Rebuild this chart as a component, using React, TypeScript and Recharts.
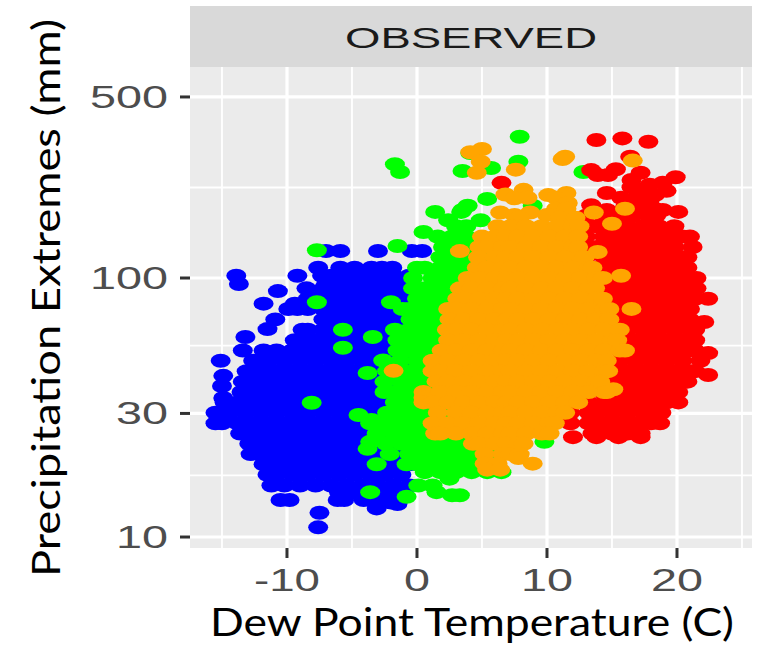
import { ScatterChart, Scatter, XAxis, YAxis, CartesianGrid, Label } from 'recharts'

type Row = [number, number[]]

// each row: [precipitation (mm), dew point temperatures (C)]
const blueRows: Row[] = [
  [127.1, [-7, -5.9, -3, -0.4, 0.4]],
  [109.6, [-7.6, -5.9, -4.8, -3.5, -2.7, -1.9]],
  [102, [-13.9, -9.2, -7.3, -6.6, -5.4, -4.2, -3, -1.8, -0.6]],
  [94.8, [-13.7, -7, -5.8, -4.6, -3.4, -2.2, -1]],
  [91.2, [-8.5, -7.2, -6, -4.8, -3.6, -2.4, -1.2]],
  [89, [-10.7]],
  [83.2, [-8.4, -7.8, -6.6, -5.4, -4.2, -3, -1.8, -0.6]],
  [79.6, [-11.8, -9.4]],
  [75.9, [-9.9, -9.2, -8.4, -7.2, -6, -4.8, -3.6, -2.4, -1.2]],
  [69.2, [-10.9, -7.2, -6.6, -5.4, -4.2, -3, -1.8, -0.6]],
  [63.5, [-11.5]],
  [63.1, [-8.8, -8.4, -7.2, -6, -4.8, -3.6, -2.4, -1.2]],
  [59.2, [-13.2]],
  [57.5, [-9.4, -9, -7.8, -6.6, -5.4, -4.2, -3, -1.8, -0.6]],
  [52.5, [-13.4, -11.8, -10.8, -9.6, -8.4, -7.2, -6, -4.8, -3.6, -2.4, -1.2]],
  [47.9, [-15.1, -12.6, -11.4, -10.2, -9, -7.8, -6.6, -5.4, -4.2, -3, -1.8, -0.6]],
  [43.7, [-13.1, -12, -10.8, -9.6, -8.4, -7.2, -6, -4.8, -3.6, -2.4, -1.2]],
  [41.9, [-14.9]],
  [39.8, [-13.4, -12.6, -11.4, -10.2, -9, -7.8, -6.6, -5.4, -4.2, -3, -1.8, -0.6]],
  [38.3, [-15]],
  [36.3, [-13.5, -13.2, -12, -10.8, -9.6, -8.4, -7.2, -6, -4.8, -3.6, -2.4, -1.2]],
  [34.4, [-14.9]],
  [33.1, [-14.8, -13.8, -12.6, -11.4, -10.2, -9, -7.8, -6.6, -5.4, -4.2, -3, -1.8, -0.6]],
  [30.2, [-15.5, -14.4, -13.2, -12, -10.8, -9.6, -8.4, -7.2, -6, -4.8, -3.6, -2.4, -1.2]],
  [27.5, [-15.5, -15, -13.8, -12.6, -11.4, -10.2, -9, -7.8, -6.6, -5.4, -4.2, -3, -1.8, -0.6]],
  [25.1, [-13.6, -13.2, -12, -10.8, -9.6, -8.4, -7.2, -6, -4.8, -3.6, -2.4, -1.2]],
  [22.9, [-12.9, -12.6, -11.4, -10.2, -9, -7.8, -6.6, -5.4, -4.2, -3, -1.8, -0.6]],
  [20.9, [-12.8, -12, -10.8, -9.6, -8.4, -7.2, -6, -4.8, -3.6, -2.4, -1.2]],
  [19.1, [-11.8, -11.4, -10.2, -9, -7.8, -6.6, -5.4, -4.2, -3, -1.8, -0.6]],
  [17.4, [-11.5, -10.8, -9.6, -8.4, -7.2, -6, -4.8, -3.6, -2.4, -1.2]],
  [15.8, [-11.2, -10.2, -9, -7.8, -6.6, -5.4, -4.2, -3, -1.8, -0.6]],
  [14.9, [-6, -4.8, -3.6, -2.4, -1.2]],
  [13.9, [-10.5, -9.8, -6.1, -5.6, -4.1]],
  [13.6, [-3, -2]],
  [13.4, [-1.5]],
  [12.9, [-3.1]],
  [12.4, [-7.5]],
  [10.9, [-7.6]],
]

const greenRows: Row[] = [
  [351, [7.9]],
  [304, [4.1]],
  [281, [7.8]],
  [275, [-1.7]],
  [266, [5.7]],
  [259, [3.5]],
  [256.5, [-1.3, 12.8]],
  [202, [5.4]],
  [190, [3.9, 8.9]],
  [183, [3.5]],
  [180, [3.4, 1.4]],
  [167, [2.4, 4.9]],
  [158.5, [3, 3.8]],
  [150.6, [0.5]],
  [144.5, [1.6, 2.7, 3.8]],
  [133, [-1.5]],
  [131.8, [2, 3, 4, 5]],
  [127.9, [-7.7]],
  [120.2, [1.8, 2.4, 3.6, 4.8]],
  [109.6, [0, 0.6, 1.8, 3, 4.2, 5.4]],
  [100, [-0.3, 1.2, 2.4, 3.6, 4.8]],
  [91.2, [-0.3, 0.6, 1.8, 3, 4.2]],
  [83.2, [0, 1.2, 2.4, 3.6]],
  [80.6, [-7.7, -2]],
  [75.9, [-1.1, -0.6, 0.6, 1.8, 3]],
  [69.2, [-0.5, 0, 1.2, 2.4, 3.6]],
  [63.1, [-1.7, -0.6, 0.6, 1.8, 3, -5.7]],
  [59.2, [-3.4]],
  [57.5, [-1.5, -1.2, 0, 1.2, 2.4]],
  [53.8, [-5.7]],
  [52.5, [-1.5, -0.6, 0.6, 1.8]],
  [48, [-2.6]],
  [47.9, [-1.3, 0, 1.2]],
  [43.7, [-2.3, -1.8, -0.6, 0.6, 1.8]],
  [43, [-3.8]],
  [39.8, [-2.5, -1.2, 0, 1.2]],
  [36.3, [-2.5, -1.8, -0.6, 0.6, 1.8]],
  [33.1, [-1.7, -1.2, 0, 1.2]],
  [33, [-8.1]],
  [30.2, [-2.3, -1.8, -0.6, 0.6, 1.8]],
  [29.6, [-4.5]],
  [28.3, [-3.5]],
  [27.5, [-3.6, -2.4, -1.2, 0, 1.2]],
  [25.1, [-3.1, -1.8, -0.6, 0.6, 1.8]],
  [23.3, [-3.6, 9.8]],
  [22.9, [-2.4, -1.2, 0, 1.2, 2.4, 3.6, 4.8]],
  [21.9, [-3.8]],
  [20.9, [-2.1, -0.6, 0.6, 1.8, 3, 4.2, 5.4]],
  [19.1, [-0.8, 0, 1.2, 2.4, 3.6, 4.8, -3.1]],
  [17.8, [0.6, 1.8, 3, 4.2, 5.4, 6.5]],
  [16.8, [2.5]],
  [15.8, [0.1, 1.2]],
  [14.9, [-3.6, 1.5]],
  [14.5, [3.3, 2.7]],
  [14.3, [-0.8]],
]

const redRows: Row[] = [
  [346, [15.8]],
  [341, [13.8]],
  [336, [17.8]],
  [294, [16.4]],
  [263, [15.3]],
  [261, [13.4]],
  [255, [17.2]],
  [250, [13.9, 14.7]],
  [245, [19.9]],
  [239, [16.5]],
  [233, [6.5, 18.9]],
  [229, [17.9]],
  [224, [16.5]],
  [219, [17.2]],
  [217, [19.2]],
  [215, [17.7]],
  [213, [14.6]],
  [209, [18.3]],
  [204, [15.7, 16.9]],
  [200, [17.9]],
  [191, [13.4, 17.2]],
  [188, [16]],
  [186, [18.2]],
  [183, [14.6, 18.9]],
  [180, [20.1]],
  [173.8, [13, 14.3, 15.5, 16.6, 17.8, 18.4]],
  [158.5, [13.2, 13.8, 15, 16.2, 17.4, 18.6, 19.8]],
  [144.5, [13, 14.4, 15.6, 16.8, 18, 19.2, 20.4, 21]],
  [131.8, [13, 13.8, 15, 16.2, 17.4, 18.6, 19.8, 21.2]],
  [120.2, [13, 14.4, 15.6, 16.8, 18, 19.2, 20.4, 20.8]],
  [109.6, [13.2, 13.8, 15, 16.2, 17.4, 18.6, 19.8, 20.8]],
  [100, [14, 14.4, 15.6, 16.8, 18, 19.2, 20.4, 21.5]],
  [91.2, [13.4, 13.8, 15, 16.2, 17.4, 18.6, 19.8, 21, 21.5]],
  [83.2, [14, 14.4, 15.6, 16.8, 18, 19.2, 20.4, 21.4, 22.4]],
  [75.9, [14.4, 15, 16.2, 17.4, 18.6, 19.8, 21]],
  [69.2, [14.4, 15.6, 16.8, 18, 19.2, 20.4, 21]],
  [67.6, [22.1]],
  [63.1, [15, 16.2, 17.4, 18.6, 19.8, 21, 21.4]],
  [57.5, [15, 15.6, 16.8, 18, 19.2, 20.4, 21.4]],
  [52.5, [15.6, 16.2, 17.4, 18.6, 19.8, 21, 21.4]],
  [51.3, [22.4]],
  [47.9, [14.2, 15.6, 16.8, 18, 19.2, 20.4, 21.8]],
  [43.7, [14.4, 15, 16.2, 17.4, 18.6, 19.8, 21, 21.4]],
  [42.2, [22.4]],
  [39.8, [13.8, 14.4, 15.6, 16.8, 18, 19.2, 20.4, 20.8]],
  [36.3, [14.2, 15, 16.2, 17.4, 18.6, 19.8, 20.1]],
  [33.1, [12, 13.2, 14.4, 15.6, 16.8, 18, 19.2, 20.1]],
  [30.2, [10.6, 11.8, 13.2, 13.8, 15, 16.2, 17.4, 18.6, 18.8]],
  [27.5, [11.8, 13.2, 14.4, 15.6, 16.8, 18, 18.7]],
  [25.1, [13.5, 13.8, 15, 16.2, 17.2]],
  [24.3, [12, 13.8, 15.5, 17.2]],
]

const orangeRows: Row[] = [
  [315, [5]],
  [306, [4.1]],
  [294, [11.4]],
  [288, [11.2]],
  [284, [16.6]],
  [281, [4.9]],
  [262, [7.6]],
  [255, [4.6]],
  [219, [8.2]],
  [213, [11.5]],
  [210, [6.8]],
  [209, [10.1]],
  [204, [8.5, 10.7]],
  [203, [7.5]],
  [195, [11.6]],
  [185, [10.7, 11.5, 16]],
  [179, [6.4, 8.7, 13.6]],
  [175, [7.5, 10]],
  [171, [7.9, 11, 12.2]],
  [162, [15]],
  [158.5, [6.2, 7.2, 8.4, 9.6, 10.8, 12, 12.5]],
  [144.5, [5, 6, 6.9, 7.8, 9, 10.2, 11.4, 12.4]],
  [131.8, [4.8, 5.4, 6.6, 7.2, 8.4, 9.6, 10.8, 12, 12.4]],
  [127, [3.3]],
  [126, [13.9]],
  [120.2, [4.7, 6, 6.9, 7.8, 9, 10.2, 11.4, 12.6, 12.9]],
  [109.6, [4.6, 5.4, 6.6, 7.2, 8.4, 9.6, 10.8, 12, 13.2, 13.5]],
  [102, [15.7]],
  [100, [3.9, 4.8, 6, 6.9, 7.8, 9, 10.2, 11.4, 12.6, 13.8, 14.3]],
  [91.2, [3.3, 4.2, 5.4, 6.6, 7.2, 8.4, 9.6, 10.8, 12, 13.2, 13.7]],
  [83.2, [3.1, 3.6, 4.8, 6, 6.9, 7.8, 9, 10.2, 11.4, 12.6, 13.8, 14.3]],
  [76, [16.5]],
  [75.9, [2.4, 3, 4.2, 5.4, 6.6, 7.2, 8.4, 9.6, 10.8, 12, 13.2, 14.4, 14.8]],
  [69.2, [2.5, 3.6, 4.8, 6, 6.9, 7.8, 9, 10.2, 11.4, 12.6, 13.8, 14.8]],
  [63.1, [2.3, 3, 4.2, 5.4, 6.6, 7.2, 8.4, 9.6, 10.8, 12, 13.2, 14.4, 15.6]],
  [57.5, [2.4, 3.6, 4.8, 6, 6.9, 7.8, 9, 10.2, 11.4, 12.6, 13.8, 15, 15.4]],
  [52.5, [1.9, 3, 4.2, 5.4, 6.6, 7.2, 8.4, 9.6, 10.8, 12, 13.2, 14.4, 15.6, 16]],
  [47.9, [1.2, 2.4, 3.6, 4.8, 6, 6.9, 7.8, 9, 10.2, 11.4, 12.6, 13.8, 14.6]],
  [43.8, [-1.8]],
  [43.7, [1.2, 1.8, 3, 4.2, 5.4, 6.6, 7.2, 8.4, 9.6, 10.8, 12, 13.2, 14.4, 14.7]],
  [39.8, [1.5, 2.4, 3.6, 4.8, 6, 6.9, 7.8, 9, 10.2, 11.4, 12.6, 13.8, 14.1]],
  [37.2, [15.1]],
  [36.3, [0.5, 1.8, 3, 4.2, 5.4, 6.6, 7.2, 8.4, 9.6, 10.8, 12, 13.2, 14.4, 14.6]],
  [34.5, [0.5]],
  [33.1, [0.5, 1.2, 2.4, 3.6, 4.8, 6, 6.9, 7.8, 9, 10.2, 11.4, 12.4]],
  [30.2, [1.6, 3, 4.2, 5.4, 6.6, 7.2, 8.4, 9.6, 10.8, 11.4]],
  [27.5, [1.2, 2.4, 3.6, 4.8, 6, 6.9, 7.8, 9, 10.2, 10.6]],
  [25.1, [1.4, 1.8, 3, 4.2, 5.4, 6.6, 7.2, 8.4, 9.6, 10.2]],
  [22.9, [4.3, 4.8, 6, 6.9, 7.8, 8.2]],
  [20.9, [5.2, 6.6, 7.2, 7.9]],
  [20.2, [7.8]],
  [19.2, [8.9, 5.2, 6.2]],
  [18.2, [5.4, 6.4]],
]

const xTicks = [-10, 0, 10, 20]
const xMinor = [-15, -5, 5, 15, 25]
const yTicks = [10, 30, 100, 500]
const yMinor = [17.3, 54.8, 223.6]

const toPoints = (rows: Row[]) => rows.flatMap(([p, temps]) => temps.map((t) => ({ t, p })))

const Dot = ({ cx, cy, fill }: any) => <ellipse cx={cx} cy={cy} rx={10} ry={7} fill={fill} />

const tickWidth = (s: string) => s.replace('-', '').length * 26 + (s.startsWith('-') ? 14 : 0)

const XTick = ({ x, y, payload }: any) => {
  const s = String(payload.value)
  return (
    <text x={x} y={y + 31} textAnchor="middle" textLength={tickWidth(s)} lengthAdjust="spacingAndGlyphs"
      fontFamily="Liberation Sans" fontSize={31} fill="#4d4d4d">{s}</text>
  )
}

const YTick = ({ x, y, payload }: any) => {
  const s = String(payload.value)
  return (
    <text x={x - 10} y={y + 11} textAnchor="end" textLength={tickWidth(s)} lengthAdjust="spacingAndGlyphs"
      fontFamily="Liberation Sans" fontSize={31} fill="#4d4d4d">{s}</text>
  )
}

const XTitle = () => (
  <text x={472} y={636} textAnchor="middle" textLength={524} lengthAdjust="spacingAndGlyphs"
    fontFamily="Lato" fontSize={39} fill="#000">Dew Point Temperature (C)</text>
)

const YTitle = () => (
  <text x={60} y={298} transform="rotate(-90 60 298)" textAnchor="middle" textLength={558} lengthAdjust="spacingAndGlyphs"
    fontFamily="Lato" fontSize={39} fill="#000">Precipitation Extremes (mm)</text>
)

export default function App() {
  return (
    <div style={{ position: 'absolute', left: 0, top: 0, width: 760, height: 647 }}>
      <ScatterChart width={760} height={647} margin={{ top: 67, right: 8, bottom: 0, left: 0 }}>
        <CartesianGrid fill="#ebebeb" stroke="#ffffff" strokeWidth={1.8} verticalValues={xMinor} horizontalValues={yMinor} />
        <CartesianGrid fill="none" stroke="#ffffff" strokeWidth={3.2} verticalValues={xTicks} horizontalValues={yTicks} />
        <XAxis type="number" dataKey="t" domain={[-17.46, 25.77]} ticks={xTicks} allowDataOverflow height={99}
          axisLine={false} tickSize={10} tickLine={{ stroke: '#333333', strokeWidth: 3 }} tick={<XTick />} interval={0}>
          <Label content={<XTitle />} />
        </XAxis>
        <YAxis type="number" dataKey="p" scale="log" domain={[9.07, 652.6]} ticks={yTicks} allowDataOverflow width={190}
          axisLine={false} tickSize={10} tickLine={{ stroke: '#333333', strokeWidth: 3 }} tick={<YTick />} interval={0}>
          <Label content={<YTitle />} />
        </YAxis>
        <Scatter data={toPoints(blueRows)} fill="#0000ff" shape={<Dot />} isAnimationActive={false} />
        <Scatter data={toPoints(greenRows)} fill="#00ff00" shape={<Dot />} isAnimationActive={false} />
        <Scatter data={toPoints(redRows)} fill="#ff0000" shape={<Dot />} isAnimationActive={false} />
        <Scatter data={toPoints(orangeRows)} fill="#ffa500" shape={<Dot />} isAnimationActive={false} />
      </ScatterChart>
      <svg width={760} height={67} style={{ position: 'absolute', left: 0, top: 0 }}>
        <rect x={190} y={6} width={562} height={61} fill="#d9d9d9" />
        <text x={471} y={48} textAnchor="middle" textLength={252} lengthAdjust="spacingAndGlyphs"
          fontFamily="Liberation Sans" fontSize={30} fill="#1a1a1a">OBSERVED</text>
      </svg>
    </div>
  )
}
